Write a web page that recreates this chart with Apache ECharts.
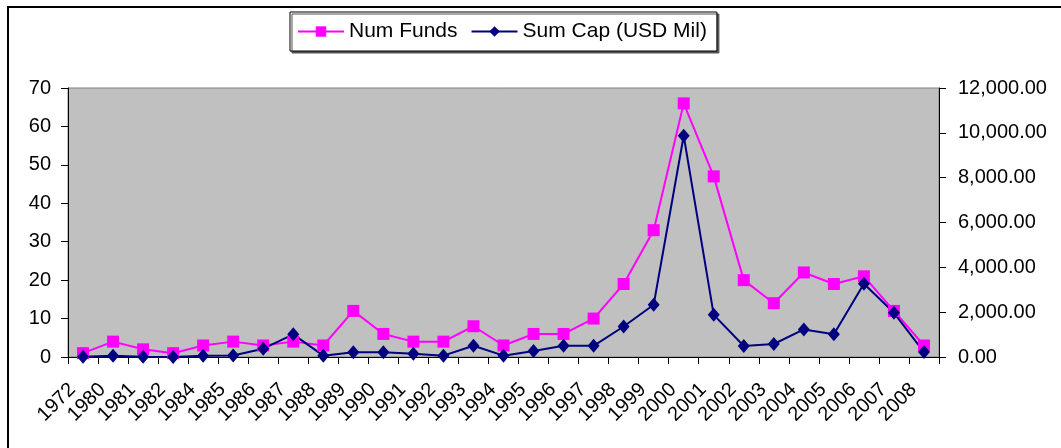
<!DOCTYPE html>
<html>
<head>
<meta charset="utf-8">
<script src="https://cdn.jsdelivr.net/npm/echarts@6/dist/echarts.min.js"></script>
<style>
  html, body { margin: 0; padding: 0; background: #fff; }
  #main { width: 1061px; height: 448px; }
</style>
</head>
<body>
<div id="main"></div>
<script>
// years on the x axis
const years = ['1972', '1980', '1981', '1982', '1984', '1985', '1986', '1987', '1988', '1989',
  '1990', '1991', '1992', '1993', '1994', '1995', '1996', '1997', '1998', '1999',
  '2000', '2001', '2002', '2003', '2004', '2005', '2006', '2007', '2008'];
// number of funds (left axis)
const numFunds = [1, 4, 2, 1, 3, 4, 3, 4, 3, 12, 6, 4, 4, 8, 3, 6, 6, 10, 19, 33, 66, 47, 20, 14, 22, 19, 21, 12, 3];
// summed capital, USD mil (right axis)
const sumCap = [10, 60, 10, 5, 60, 70, 370, 1010, 60, 210, 210, 150, 60, 500, 60, 270, 500, 500, 1360, 2330,
  9870, 1880, 490, 580, 1230, 1010, 3270, 1970, 220];

const FONT = "Arial, 'Liberation Sans', sans-serif";

const chart = echarts.init(document.getElementById('main'));

function fmtCap(v) {
  return v.toLocaleString('en-US', { minimumFractionDigits: 2, maximumFractionDigits: 2 });
}

const option = {
  animation: false,
  backgroundColor: '#ffffff',
  textStyle: { fontFamily: FONT },
  // outer chart frame
  graphic: [{
    type: 'rect',
    shape: { x: 8, y: 7, width: 1100, height: 500 },
    style: { fill: 'none', stroke: '#000', lineWidth: 2 },
    silent: true
  }],
  legend: {
    left: 290,
    top: 12,
    orient: 'horizontal',
    padding: [9, 10, 9, 7],
    itemGap: 13,
    itemWidth: 46,
    itemHeight: 13,
    borderColor: '#000',
    borderWidth: 1,
    backgroundColor: '#fff',
    shadowColor: '#555',
    shadowOffsetX: 2,
    shadowOffsetY: 2,
    shadowBlur: 0,
    textStyle: { fontFamily: FONT, fontSize: 21, color: '#000' },
    data: ['Num Funds', 'Sum Cap (USD Mil)']
  },
  grid: {
    left: 68,
    right: 122,
    top: 88,
    bottom: 91,
    show: true,
    backgroundColor: '#C0C0C0',
    borderColor: '#808080',
    borderWidth: 1
  },
  xAxis: {
    type: 'category',
    data: years,
    boundaryGap: true,
    axisLine: { lineStyle: { color: '#000', width: 1 } },
    axisTick: { show: true, length: 7, lineStyle: { color: '#000' } },
    axisLabel: {
      interval: 0,
      rotate: 45,
      margin: 19,
      padding: [0, 15, 0, 0],
      fontSize: 20,
      fontFamily: FONT,
      color: '#000'
    },
    splitLine: { show: false }
  },
  yAxis: [{
    type: 'value',
    min: 0,
    max: 70,
    interval: 10,
    axisLine: { show: true, lineStyle: { color: '#000' } },
    axisTick: { show: true, length: 7, lineStyle: { color: '#000' } },
    axisLabel: { margin: 17, fontSize: 20, fontFamily: FONT, color: '#000' },
    splitLine: { show: false }
  }, {
    type: 'value',
    min: 0,
    max: 12000,
    interval: 2000,
    position: 'right',
    axisLine: { show: true, lineStyle: { color: '#000' } },
    axisTick: { show: true, length: 7, lineStyle: { color: '#000' } },
    axisLabel: { margin: 19, fontSize: 20, fontFamily: FONT, color: '#000', formatter: fmtCap },
    splitLine: { show: false }
  }],
  series: [{
    name: 'Num Funds',
    type: 'line',
    yAxisIndex: 0,
    data: numFunds,
    symbol: 'rect',
    symbolSize: 12,
    showAllSymbol: true,
    lineStyle: { color: '#FF00FF', width: 2 },
    itemStyle: { color: '#FF00FF' }
  }, {
    name: 'Sum Cap (USD Mil)',
    type: 'line',
    yAxisIndex: 1,
    data: sumCap,
    symbol: 'diamond',
    symbolSize: [12, 14],
    showAllSymbol: true,
    lineStyle: { color: '#000080', width: 2 },
    itemStyle: { color: '#000080' }
  }]
};

chart.setOption(option);
</script>
</body>
</html>
